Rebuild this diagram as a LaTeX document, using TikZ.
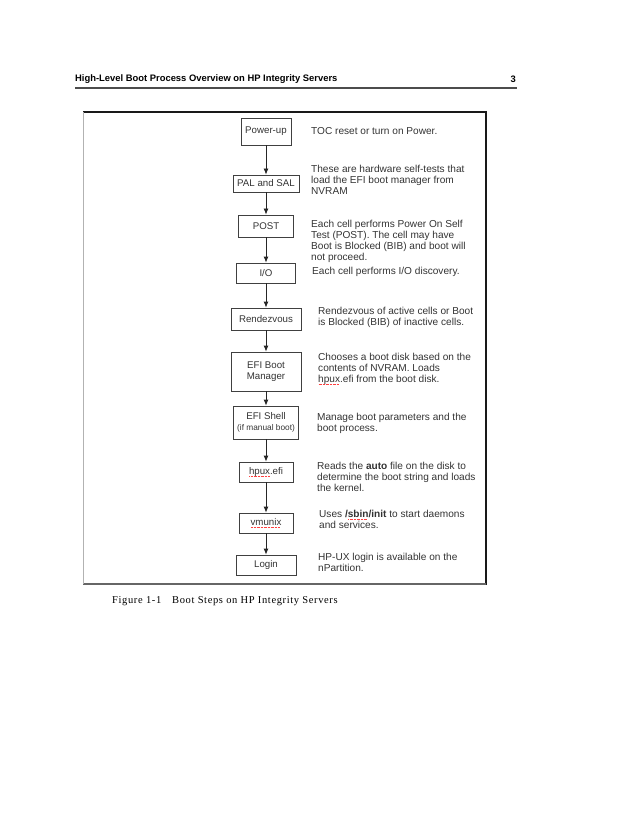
\documentclass[tikz,border=0pt]{standalone}
\usepackage{fontspec}
\setmainfont{Liberation Sans}
\newfontfamily\capfont{Liberation Serif}[LetterSpace=6]
\usetikzlibrary{arrows.meta}

% parola segnata dal correttore
\newlength\spw
\newcommand\spellmark[1]{\settowidth\spw{#1}\rlap{\color{red!75}\leaders\hbox to 1.4pt{\hss\rule[-2.6pt]{0.8pt}{0.6pt}\hss}\hskip\spw}#1}

\tikzset{
  stepbox/.style={draw=black!75, line width=0.8pt, inner sep=1pt, align=center,
    text=black!80, font=\fontsize{9.7}{11}\selectfont},
  note/.style={anchor=west, inner sep=0pt, align=left, text=black!80,
    font=\fontsize{10.1}{11}\selectfont},
  arr/.style={draw=black!85, line width=0.8pt, -{Latex[length=6pt,width=5pt]}}
}

\begin{document}
\begin{tikzpicture}[x=1pt,y=-1pt]
  \useasboundingbox (0,0) rectangle (638,826);

  % testata
  \node[anchor=west, inner sep=0pt, font=\bfseries\fontsize{9.4}{11}\selectfont] (head) at (75,79)
    {High-Level Boot Process Overview on HP Integrity Servers};
  \node[anchor=east, inner sep=0pt, font=\bfseries\fontsize{9.4}{11}\selectfont] (page) at (516,79) {3};
  \draw[color=black!70, line width=1.5pt] (75,88) -- (517,88);

  % cornice
  \draw[color=black!90, line width=1.2pt] (83,112) -- (486,112);
  \draw[color=black!90, line width=2.5pt] (486,111) -- (486,585);
  \draw[color=black!60, line width=1.8pt] (83,584) -- (486,584);
  \draw[color=black!30, line width=0.5pt] (83,112) -- (83,584);

  % passi
  \node[stepbox, minimum width=50pt, minimum height=27pt] (pwr) at (266,131.5) {Power-up};
  \node[stepbox, minimum width=66pt, minimum height=17pt] (pal) at (266,183.5) {PAL and SAL};
  \node[stepbox, minimum width=55pt, minimum height=22pt] (post) at (266,226) {POST};
  \node[stepbox, minimum width=59pt, minimum height=20pt] (io) at (266,273) {I/O};
  \node[stepbox, minimum width=70pt, minimum height=22pt] (rdv) at (266,319) {Rendezvous};
  \node[stepbox, minimum width=70pt, minimum height=39pt] (efim) at (266,371.5) {EFI Boot\\Manager};
  \node[stepbox, minimum width=65pt, minimum height=33pt] (efis) at (266,422.5)
    {EFI Shell\\{\fontsize{8.3}{10}\selectfont(if manual boot)}};
  \node[stepbox, minimum width=54pt, minimum height=20pt] (hpux) at (266,472) {\spellmark{hpux}.efi};
  \node[stepbox, minimum width=54pt, minimum height=20pt] (vmx) at (266,523) {\spellmark{vmunix}};
  \node[stepbox, minimum width=60pt, minimum height=20pt] (login) at (266,565) {Login};

  % frecce
  \draw[arr] (pwr) -- (pal);
  \draw[arr] (pal) -- (post);
  \draw[arr] (post) -- (io);
  \draw[arr] (io) -- (rdv);
  \draw[arr] (rdv) -- (efim);
  \draw[arr] (efim) -- (efis);
  \draw[arr] (efis) -- (hpux);
  \draw[arr] (hpux) -- (vmx);
  \draw[arr] (vmx) -- (login);

  % descrizioni
  \node[note] (dpwr) at (311,130.7) {TOC reset or turn on Power.};
  \node[note] (dpal) at (311,180) {These are hardware self-tests that\\load the EFI boot manager from\\NVRAM};
  \node[note] (dpost) at (311,241) {Each cell performs Power On Self\\Test (POST). The cell may have\\Boot is Blocked (BIB) and boot will\\not proceed.};
  \node[note] (dio) at (312,272) {Each cell performs I/O discovery.};
  \node[note] (drdv) at (318,317) {Rendezvous of active cells or Boot\\is Blocked (BIB) of inactive cells.};
  \node[note] (defim) at (318,369) {Chooses a boot disk based on the\\contents of NVRAM. Loads\\\spellmark{hpux}.efi from the boot disk.};
  \node[note] (defis) at (317,423.3) {Manage boot parameters and the\\boot process.};
  \node[note] (dhpux) at (317,477) {Reads the \textbf{auto} file on the disk to\\determine the boot string and loads\\the kernel.};
  \node[note] (dvmx) at (319,519) {Uses \textbf{/\spellmark{sbin}/init} to start daemons\\and services.};
  \node[note] (dlogin) at (318,562) {HP-UX login is available on the\\nPartition.};

  % didascalia
  \node[anchor=west, inner sep=0pt, font=\capfont\fontsize{10.5}{13}\selectfont] (fig) at (112,601) {Figure 1-1};
  \node[anchor=west, inner sep=0pt, font=\capfont\fontsize{10.5}{13}\selectfont] (cap) at (172,601)
    {Boot Steps on HP Integrity Servers};
\end{tikzpicture}
\end{document}
